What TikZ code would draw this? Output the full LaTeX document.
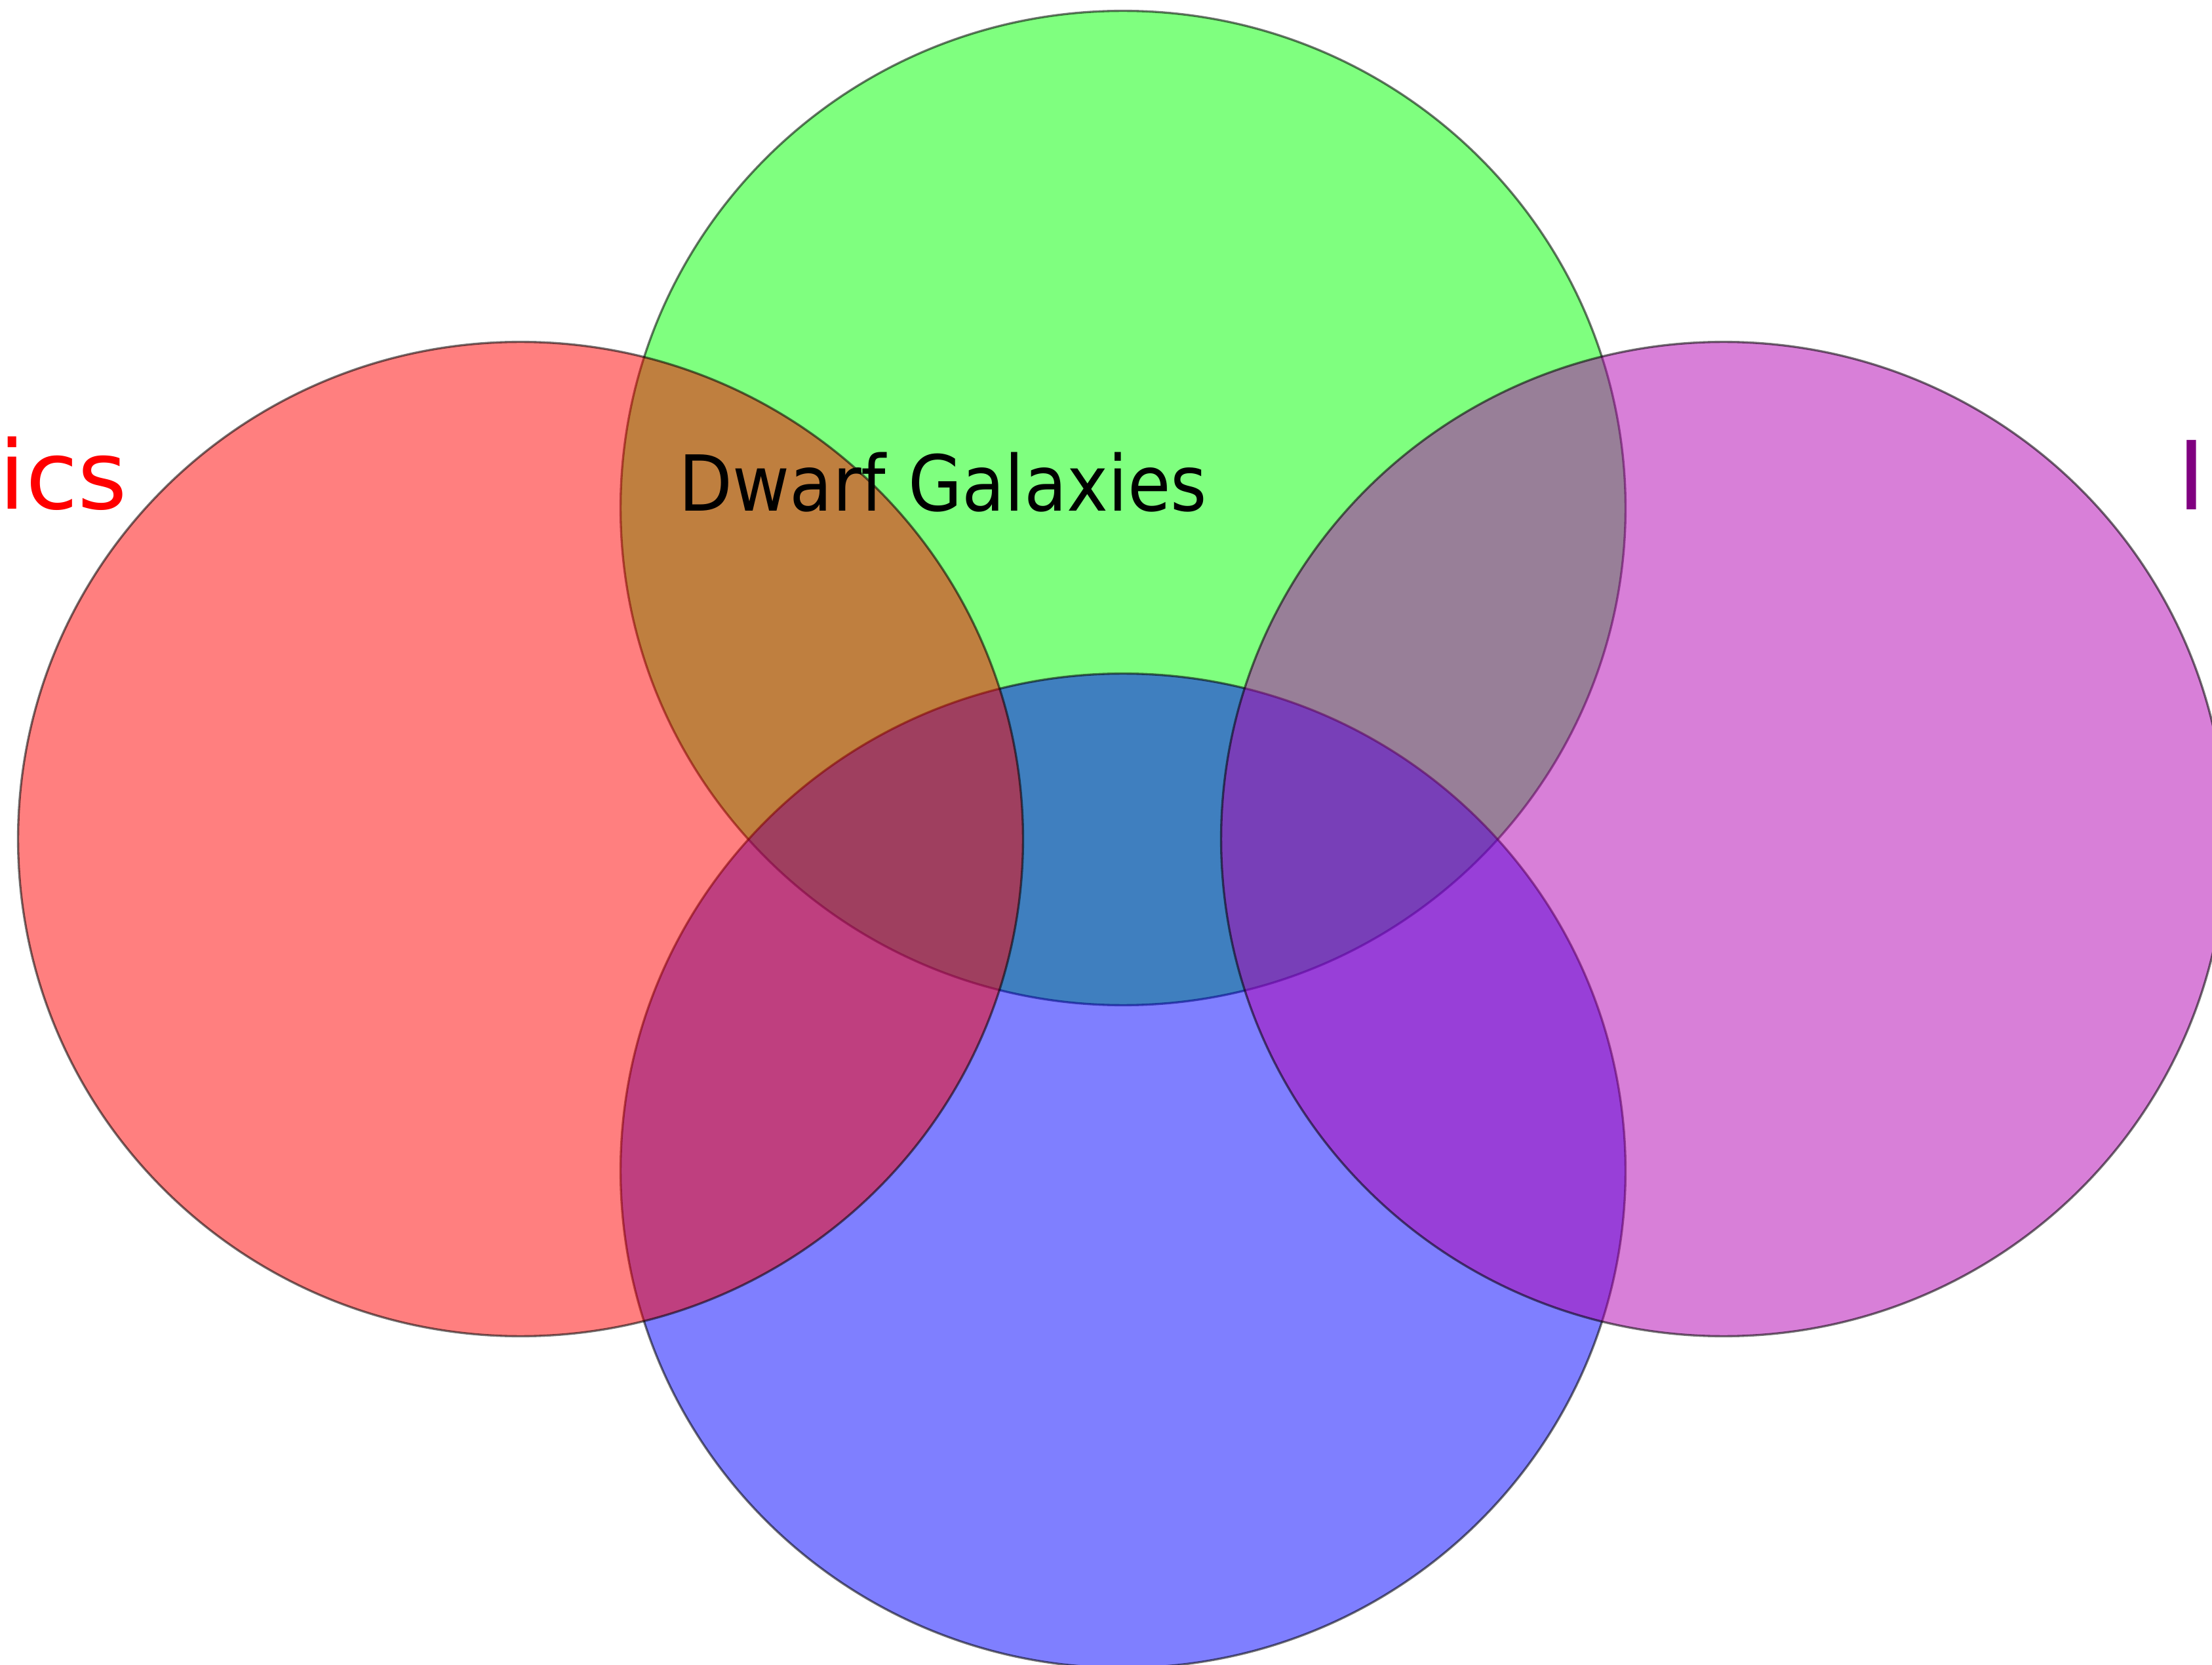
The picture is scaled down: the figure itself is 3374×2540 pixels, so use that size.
\documentclass[tikz,border=0pt]{standalone}
\usepackage{fontspec}
\setmainfont{DejaVu Sans}
\definecolor{setgreen}{RGB}{0,255,0}
\definecolor{setblue}{RGB}{0,0,255}
\definecolor{setred}{RGB}{255,0,0}
\definecolor{setmag}{RGB}{178,0,178}
\definecolor{labmag}{RGB}{128,0,128}
\tikzset{
  setshape/.style={line width=0.95pt, draw=black, draw opacity=0.55, fill opacity=0.5},
  biglabel/.style={inner sep=0pt, anchor=base west, font=\fontsize{41.3}{49}\selectfont},
  smalllabel/.style={inner sep=0pt, anchor=base west, font=\fontsize{33.5}{40}\selectfont, text=black}
}
\begin{document}
\begin{tikzpicture}[x=0.01cm, y=-0.01cm]
\useasboundingbox (0,0) rectangle (3374,2540);
\clip (0,0) rectangle (3374,2540);
\fill[white] (0,0) rectangle (3374,2540);
% sets, in drawing order
\draw[setshape, fill=setgreen] (1713,775) ellipse [x radius=7.66cm, y radius=7.58cm];
\draw[setshape, fill=setblue] (1713,1786) ellipse [x radius=7.66cm, y radius=7.58cm];
\draw[setshape, fill=setred] (794,1280) ellipse [x radius=7.66cm, y radius=7.58cm];
\draw[setshape, fill=setmag] (2629,1280) ellipse [x radius=7.66cm, y radius=7.58cm];
% labels
\node[biglabel, text=setred] (redlabel) at (-2,777) {ics};
\node[biglabel, text=labmag] (maglabel) at (3321,778) {In};
\node[smalllabel] (dwarf) at (1035,780) {\scalebox{0.904}[1]{Dwarf Galaxies}};
\end{tikzpicture}
\end{document}
